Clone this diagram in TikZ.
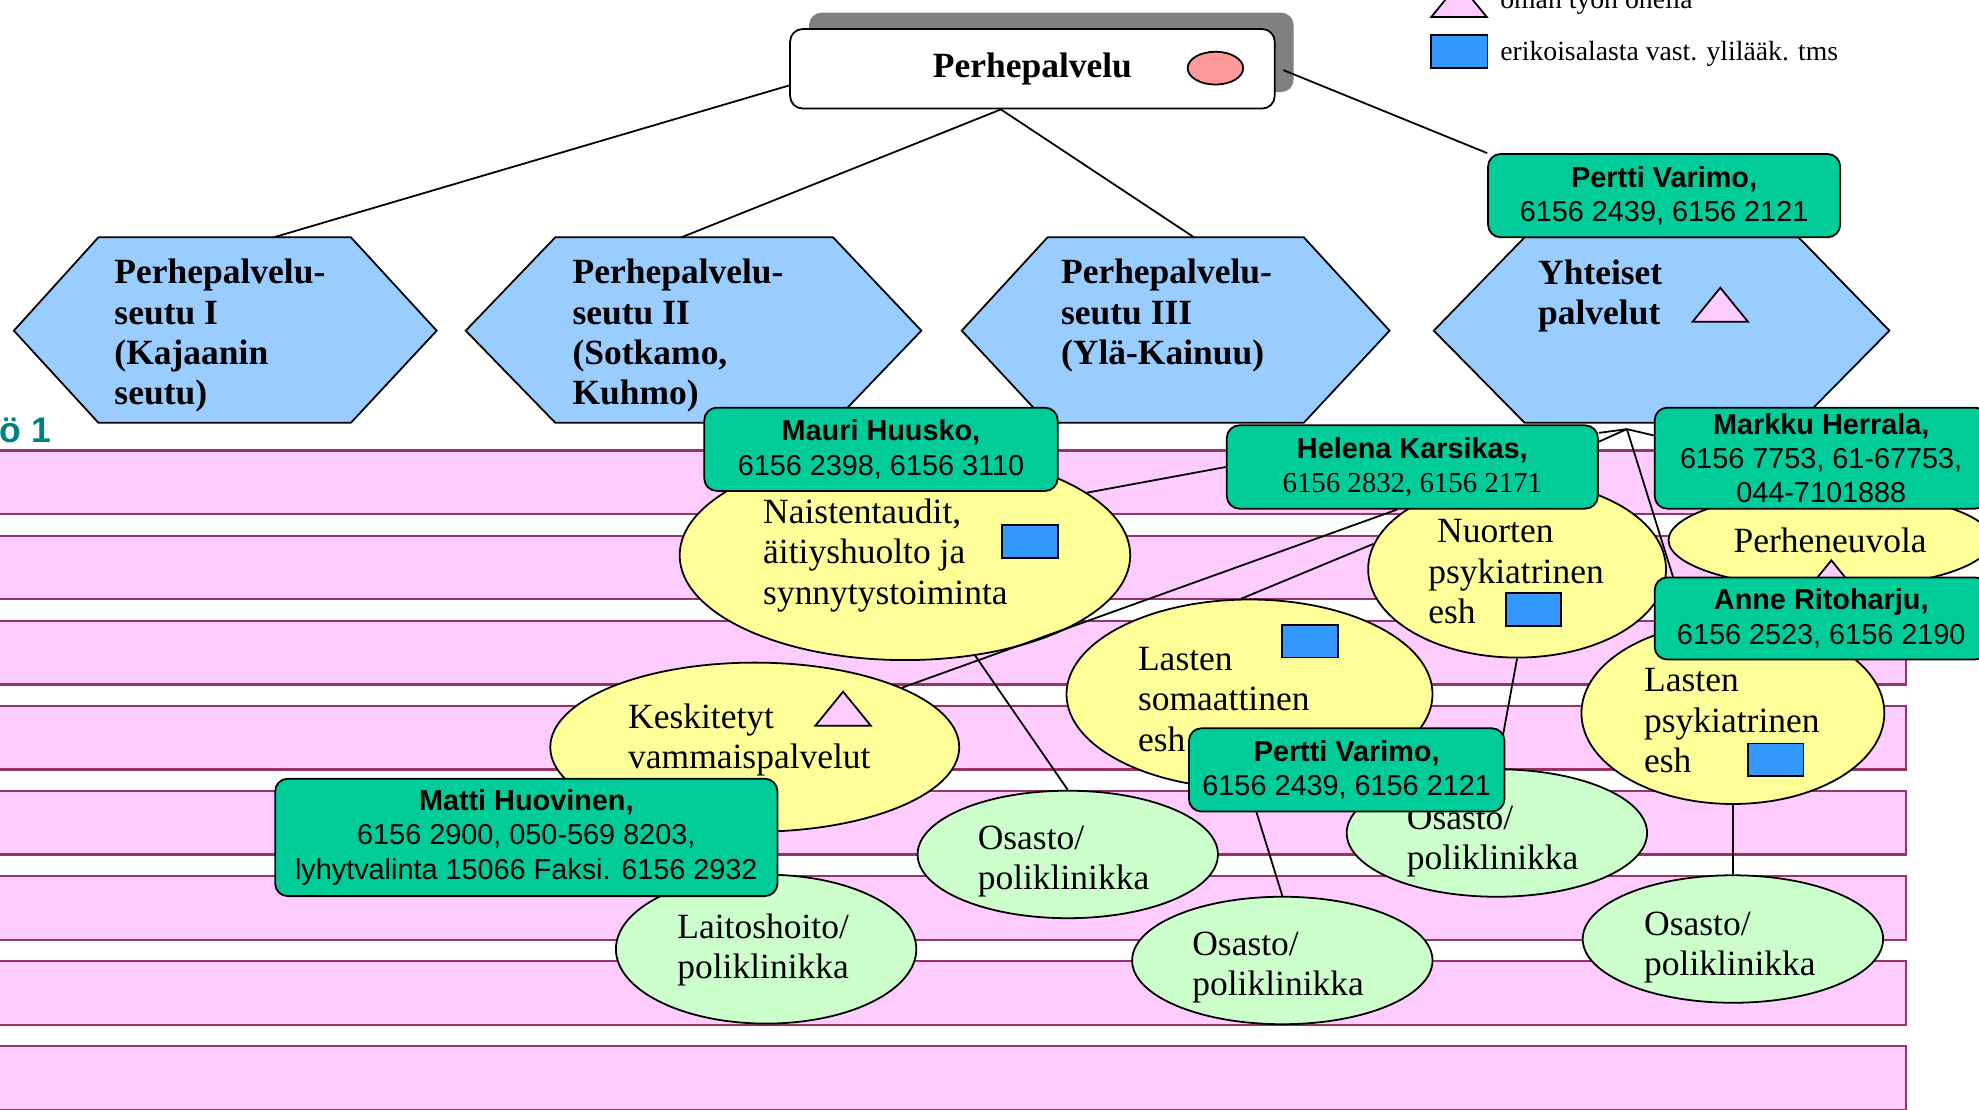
\documentclass[tikz,border=0pt]{standalone}
\usepackage{fontspec}
\setmainfont{Liberation Serif}
\setsansfont{Liberation Sans}
\usetikzlibrary{shapes.geometric,shadows,calc}

\definecolor{bandpink}{HTML}{FFCCFF}
\definecolor{bandline}{HTML}{993366}
\definecolor{hexblue}{HTML}{99CCFF}
\definecolor{boxgreen}{HTML}{00CC99}
\definecolor{yellfill}{HTML}{FFFF99}
\definecolor{palegreen}{HTML}{CCFFCC}
\definecolor{sqblue}{HTML}{3399FF}
\definecolor{pinkdot}{HTML}{FF9999}
\definecolor{shadowgray}{HTML}{808080}
\definecolor{titleteal}{HTML}{008080}

\def\pu{0.02cm}
\def\big{\fontsize{16}{18.2}\selectfont}

\tikzset{
  band/.style={fill=bandpink, draw=bandline, line width=1pt},
  hexa/.style={fill=hexblue, draw},
  hextxt/.style={font=\big\bfseries, align=left, anchor=west, inner sep=0},
  ylin/.style={rectangle, rounded corners=0.2cm, draw, fill=white, inner sep=0,
    minimum width=384*\pu, minimum height=63*\pu, font=\big\bfseries,
    general shadow={fill=shadowgray, shadow xshift=0.3cm, shadow yshift=0.26cm}},
  person/.style={rectangle, rounded corners=0.2cm, fill=boxgreen, draw, inner sep=0,
    align=center, font=\sffamily\fontsize{13}{15.5}\selectfont},
  yell/.style={ellipse, fill=yellfill, draw, inner sep=0, font=\big},
  osasto/.style={ellipse, fill=palegreen, draw, inner sep=0,
    minimum width=238*\pu, minimum height=101*\pu},
  eltxt/.style={font=\big, align=left, anchor=west, inner sep=0},
  erik/.style={rectangle, fill=sqblue, draw, inner sep=0,
    minimum width=44*\pu, minimum height=26*\pu},
  omatri/.style={fill=bandpink, draw},
  legtxt/.style={font=\fontsize{12.5}{14}\selectfont, inner sep=0},
}

% oman tyon ohella -merkki
\newcommand\oma[2]{\draw[omatri] ({#1-22},{#2+13.5}) -- ({#1+22},{#2+13.5}) -- (#1,{#2-13.5}) -- cycle;}

\begin{document}
\begin{tikzpicture}[x=0.02cm, y=-0.02cm, line width=0.8pt]
\useasboundingbox (0,0) rectangle (1568,879);

% taustan raidat
\foreach \i in {0,...,7}
  \draw[band] (-10,{357+67.4*\i}) rectangle (1510,{407.5+67.4*\i});
\node[anchor=west, inner sep=0, text=titleteal, font=\sffamily\bfseries\big] (tyo) at (-1,341) {ö 1};

% selitteet
\oma{1156}{0}
\node[legtxt, anchor=base west] (omat) at (1188,6.5) {oman työn ohella};
\node[erik, minimum width=45*\pu] (erikleg) at (1156,41) {};
\node[legtxt, anchor=west] (erikt) at (1188,43) {erikoisalasta vast. ylilääk. tms};

% seudut
\draw[hexa] (11,262) -- (78,188) -- (278,188) -- (346,262) -- (278,335) -- (78,335) -- cycle;
\draw[hexa] (369,262) -- (440,188) -- (660,188) -- (730,262) -- (660,335) -- (440,335) -- cycle;
\draw[hexa] (762,262) -- (830,188) -- (1033,188) -- (1101,262) -- (1033,335) -- (830,335) -- cycle;
\draw[hexa] (1136,262) -- (1208,188) -- (1425,188) -- (1497,262) -- (1425,335) -- (1208,335) -- cycle;
\node[hextxt] (seutu1) at (90,266) {Perhepalvelu-\\seutu I\\(Kajaanin\\seutu)};
\node[hextxt] (seutu2) at (453,266) {Perhepalvelu-\\seutu II\\(Sotkamo,\\Kuhmo)};
\node[hextxt] (seutu3) at (840,250) {Perhepalvelu-\\seutu III\\(Ylä-Kainuu)};
\node[hextxt] (yhteiset) at (1218,234.5) {Yhteiset\\palvelut};
\oma{1363}{241.5}

% ylin taso
\node[ylin] (perhe) at (818,54.5) {Perhepalvelu};
\node[ellipse, fill=pinkdot, draw, minimum width=44*\pu, minimum height=26*\pu] (pdot) at (963,54) {};
\node[person, minimum width=279*\pu, minimum height=66*\pu] (pertti1) at (1318.5,155)
  {\textbf{Pertti Varimo,}\\6156 2439, 6156 2121};
\coordinate (top1) at (217,188);
\coordinate (top2) at (540,188);
\coordinate (top3) at (946,188);
\coordinate (pb) at ($(perhe.south)+(-25,0)$);
\draw ($(perhe.south west)+(0,-19)$) -- (top1);
\draw (pb) -- (top2);
\draw (pb) -- (top3);
\draw ($(perhe.east)+(6,1)$) -- (pertti1.north west);

% yksikot
\node[yell, minimum width=357*\pu, minimum height=166*\pu] (naist) at (717,440) {};
\node[eltxt] (naistt) at (604,440) {Naistentaudit,\\äitiyshuolto ja\\synnytystoiminta};
\node[erik] (naistsq) at (816,429) {};

\node[yell, minimum width=324*\pu, minimum height=134*\pu] (kesk) at (598,592) {};
\node[eltxt] (keskt) at (497,586.5) {Keskitetyt\\vammaispalvelut};
\oma{668}{561.5}

\node[yell, minimum width=290*\pu, minimum height=150*\pu] (lsom) at (990,550) {};
\node[eltxt] (lsomt) at (901,554) {Lasten\\somaattinen\\esh};
\node[erik] (lsomsq) at (1038,508) {};

\node[yell, minimum width=236*\pu, minimum height=140*\pu] (nuort) at (1202,451) {};
\node[eltxt] (nuortt) at (1131,453) {\hspace{4pt}Nuorten\\psykiatrinen\\esh};
\node[erik] (nuortsq) at (1215,483) {};

\node[yell, minimum width=256*\pu, minimum height=76*\pu] (pneu) at (1450,428) {Perheneuvola};
\oma{1451}{457.5}

\node[yell, minimum width=240*\pu, minimum height=144*\pu] (lpsyk) at (1373,565) {};
\node[eltxt] (lpsykt) at (1302,571) {Lasten\\psykiatrinen\\esh};
\node[erik] (lpsyksq) at (1407,602) {};

\node[osasto] (os1) at (846,677) {};
\node[eltxt] (os1t) at (774,682.5) {Osasto/\\poliklinikka};
\node[osasto] (os2) at (1186,660) {};
\node[eltxt] (os2t) at (1114,666.5) {Osasto/\\poliklinikka};
\node[osasto] (os3) at (1016,761) {};
\node[eltxt] (os3t) at (944,766.5) {Osasto/\\poliklinikka};
\node[osasto] (os4) at (1373,744) {};
\node[eltxt] (os4t) at (1302,750.5) {Osasto/\\poliklinikka};
\node[osasto, minimum height=118*\pu] (laitos) at (607,752) {};
\node[eltxt] (laitost) at (536,752.5) {Laitoshoito/\\poliklinikka};

\draw (naist.-55) -- (os1.north);
\draw (nuort.170) -- (lsom.95);
\draw (nuort.south) -- (os2.north);
\draw (lsom.south) -- (os3.north);
\draw (lpsyk.south) -- (os4.north);
\coordinate (yht) at (1289,340);
\draw (yht) -- (lpsyk.117);

% vastuuhenkilot
\node[person, minimum width=280*\pu, minimum height=66*\pu] (mauri) at (698,356)
  {\textbf{Mauri Huusko,}\\6156 2398, 6156 3110};
\node[person, minimum width=294*\pu, minimum height=66*\pu] (helena) at (1119,370)
  {\textbf{Helena Karsikas,}\\{\rmfamily 6156 2832, 6156 2171}};
\node[person, minimum width=264*\pu, minimum height=80*\pu] (markku) at (1443,363)
  {\textbf{Markku Herrala,}\\6156 7753, 61-67753,\\044-7101888};
\node[person, minimum width=264*\pu, minimum height=65*\pu] (anne) at (1443,490)
  {\textbf{Anne Ritoharju,}\\6156 2523, 6156 2190};
\node[person, minimum width=250*\pu, minimum height=66*\pu] (pertti2) at (1067,610)
  {\textbf{Pertti Varimo,}\\6156 2439, 6156 2121};
\node[person, minimum width=398*\pu, minimum height=93*\pu] (matti) at (417,663.5)
  {\textbf{Matti Huovinen,}\\6156 2900, 050-569 8203,\\lyhytvalinta 15066 Faksi. 6156 2932};

\draw (naist.19) -- (helena.west);
\draw ($(helena.south)+(-12,0)$) -- (kesk.22);
\draw (yht) -- ($(helena.east)+(0,-27)$);
\draw (yht) -- ($(helena.east)+(0,-20)$);
\draw (yht) -- ($(markku.west)+(0,-18)$);
\end{tikzpicture}
\end{document}
